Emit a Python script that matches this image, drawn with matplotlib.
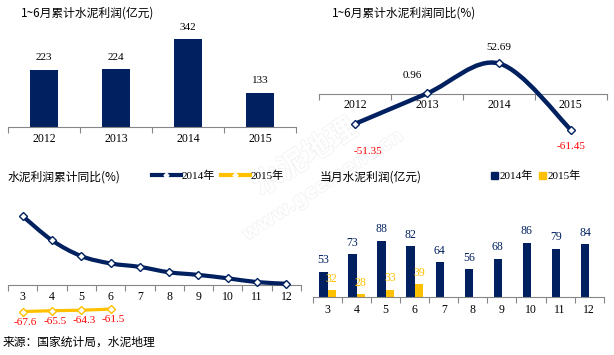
import numpy as np
import matplotlib
matplotlib.use("Agg")
import matplotlib.pyplot as plt
from matplotlib.path import Path
from matplotlib.patches import PathPatch, Patch
from matplotlib.lines import Line2D
import matplotlib.patheffects as pe

# ---------------- data ----------------
years = ["2012", "2013", "2014", "2015"]
profit_h1 = [223, 224, 342, 133]            # 1~6月累计水泥利润(亿元)
yoy_h1 = [-51.35, 0.96, 52.69, -61.45]      # 1~6月累计水泥利润同比(%)

months = ["3", "4", "5", "6", "7", "8", "9", "10", "11", "12"]
cum_yoy_2014 = [171, 110.5, 71, 52.69, 44, 30.5, 24, 15.5, 6, 2]   # 水泥利润累计同比 2014
cum_yoy_2015 = [-67.6, -65.5, -64.3, -61.5]                      # 2015 (3~6月)

monthly_2014 = [53, 73, 88, 82, 64, 56, 68, 86, 79, 84]           # 当月水泥利润 2014
monthly_2015 = [32, 28, 33, 39]                                   # 当月水泥利润 2015

# ---------------- style ----------------
NAVY = "#002060"
YEL = "#FFC000"
RED = "#FF0000"
GRAY = "#868686"
SERIF = ["Liberation Serif", "Noto Sans CJK SC"]
CJK = ["Noto Sans CJK SC", "DejaVu Sans"]
W, H = 614, 355
TICK_FS = 8.5
LAB_FS = 8
TITLE_FS = 8.5

fig = plt.figure(figsize=(W / 100, H / 100), dpi=100)
fig.patch.set_facecolor("white")


def rect(x0, y0, x1, y1):
    return [x0 / W, 1 - y1 / H, (x1 - x0) / W, (y1 - y0) / H]


def px2pt(v):
    return v * 72 / 100


def cat_axis(ax, labels, pad_px, zero_spine=False):
    if zero_spine:
        ax.spines["bottom"].set_position(("data", 0))
    n = len(labels)
    ax.set_xlim(-0.5, n - 0.5)
    ax.set_xticks(range(n))
    ax.set_xticklabels(labels, family=SERIF, fontsize=TICK_FS)
    ax.set_xticks(np.arange(-0.5, n, 1.0), minor=True)
    ax.tick_params(axis="x", which="major", length=0, pad=px2pt(pad_px))
    ax.tick_params(axis="x", which="minor", length=4.5, width=0.8, color=GRAY, direction="out")
    ax.yaxis.set_visible(False)
    for s in ["top", "left", "right"]:
        ax.spines[s].set_visible(False)
    ax.spines["bottom"].set_color(GRAY)
    ax.spines["bottom"].set_linewidth(0.8)
    ax.set_facecolor("none")


def smooth_path(x, y):
    pts = np.column_stack([np.asarray(x, float), np.asarray(y, float)])
    n = len(pts)
    verts = [pts[0]]
    codes = [Path.MOVETO]
    for i in range(n - 1):
        p0 = pts[i - 1] if i > 0 else pts[i]
        p1 = pts[i]
        p2 = pts[i + 1]
        p3 = pts[i + 2] if i + 2 < n else pts[i + 1]
        c1 = p1 + (p2 - p0) / 6.0
        c2 = p2 - (p3 - p1) / 6.0
        verts += [c1, c2, p2]
        codes += [Path.CURVE4] * 3
    return Path(verts, codes)


# watermark (behind, very faint)
wm_kw = dict(color="white", rotation=33, ha="center", va="center", zorder=-5,
             path_effects=[pe.withStroke(linewidth=1.0, foreground="#f0f0f0")])
fig.text(305 / W, 1 - 157 / H, "水泥地理", fontsize=21, fontweight="bold", family=CJK, **wm_kw)
fig.text(323 / W, 1 - 185 / H, "www.gcement.cn", fontsize=14, fontweight="bold",
         family=["DejaVu Sans"], **wm_kw)

# ---------------- panel 1 ----------------
ax1 = fig.add_axes(rect(8, 20, 296, 127))
cat_axis(ax1, years, 6.5)
x1 = np.arange(len(years))
ax1.bar(x1, profit_h1, width=0.4, color=NAVY)
ax1.set_ylim(0, 342 * 107 / 88)
for xi, v in zip(x1, profit_h1):
    ax1.annotate(str(v), (xi, v), xytext=(0, px2pt(12)), textcoords="offset points",
                 ha="center", va="center", fontsize=LAB_FS, family=SERIF, color="black")
fig.text(20.5 / W, 1 - 13 / H, "1~6月累计水泥利润(亿元)", fontsize=TITLE_FS, family=CJK,
         ha="left", va="center")

# ---------------- panel 2 ----------------
ax2 = fig.add_axes(rect(319.3, 30, 606.7, 150))
cat_axis(ax2, years, 5.5, zero_spine=True)
ax2.set_ylim(-(150 - 94) / 0.58, (94 - 30) / 0.58)
x2 = np.arange(len(years))
ax2.add_patch(PathPatch(smooth_path(x2, yoy_h1), fill=False, edgecolor=NAVY, lw=3.2,
                        capstyle="round", joinstyle="round", zorder=3))
ax2.plot(x2, yoy_h1, ls="none", marker="D", ms=4, mfc="white", mec=NAVY, mew=1, zorder=4)
off2 = [(13, -28), (-15, 18), (0, 15.7), (0, -16.4)]
for xi, v, (dx, dy) in zip(x2, yoy_h1, off2):
    ax2.annotate(f"{v:.2f}", (xi, v), xytext=(px2pt(dx), px2pt(dy)), textcoords="offset points",
                 ha="center", va="center", fontsize=LAB_FS, family=SERIF,
                 color=RED if v < 0 else "black")
fig.text(332 / W, 1 - 13 / H, "1~6月累计水泥利润同比(%)", fontsize=TITLE_FS, family=CJK,
         ha="left", va="center")

# ---------------- panel 3 ----------------
ax3 = fig.add_axes(rect(8, 195, 301, 325))
cat_axis(ax3, months, 6, zero_spine=True)
ax3.set_ylim(-(325 - 284.5) / 0.4, (284.5 - 195) / 0.4)
x3 = np.arange(len(months))
ax3.add_patch(PathPatch(smooth_path(x3, cum_yoy_2014), fill=False, edgecolor=NAVY, lw=3,
                        capstyle="round", joinstyle="round", zorder=3))
ax3.plot(x3, cum_yoy_2014, ls="none", marker="D", ms=4, mfc="white", mec=NAVY, mew=1, zorder=4)
x3b = np.arange(len(cum_yoy_2015))
ax3.plot(x3b, cum_yoy_2015, color=YEL, lw=2.3, marker="D", ms=4, mfc="white", mec=YEL,
         mew=1, solid_capstyle="round", zorder=4)
for xi, v in zip(x3b, cum_yoy_2015):
    ax3.annotate(f"{v:.1f}", (xi, v), xytext=(px2pt(3), px2pt(-10.7)), textcoords="offset points",
                 ha="center", va="center", fontsize=LAB_FS, family=SERIF, color=RED)
fig.text(8 / W, 1 - 177 / H, "水泥利润累计同比(%)", fontsize=TITLE_FS, family=CJK,
         ha="left", va="center")
h3 = [Line2D([], [], color=NAVY, lw=3, marker="D", ms=2.5, mfc="white", mec="white"),
      Line2D([], [], color=YEL, lw=3, marker="D", ms=2.5, mfc="white", mec="white")]
ax3.legend(h3, ["2014年", "2015年"], loc="center left",
           bbox_to_anchor=(152 / W, 1 - 176 / H), bbox_transform=fig.transFigure,
           ncol=2, frameon=False, handlelength=2.6, handletextpad=0.1,
           columnspacing=0.5, borderpad=0, borderaxespad=0,
           prop=dict(family=SERIF, size=8))

# ---------------- panel 4 ----------------
ax4 = fig.add_axes(rect(313, 190, 603.7, 296.7))
cat_axis(ax4, months, 7)
ymin4 = 25
ax4.set_ylim(ymin4, ymin4 + 106.7 / 0.886)
x4 = np.arange(len(months))
bw = 0.285
ax4.bar(x4 - bw / 2, monthly_2014, width=bw, color=NAVY, zorder=2)
x4b = np.arange(len(monthly_2015))
ax4.bar(x4b + bw / 2, monthly_2015, width=bw, color=YEL, zorder=2)
for xi, v in zip(x4, monthly_2014):
    ax4.annotate(str(v), (xi - bw / 2, v), xytext=(0, px2pt(11.5)), textcoords="offset points",
                 ha="center", va="center", fontsize=LAB_FS + 0.5, family=SERIF, color=NAVY)
for xi, v in zip(x4b, monthly_2015):
    ax4.annotate(str(v), (xi + bw / 2, v), xytext=(0, px2pt(11.5)), textcoords="offset points",
                 ha="center", va="center", fontsize=LAB_FS + 0.5, family=SERIF, color=YEL)
fig.text(320 / W, 1 - 177 / H, "当月水泥利润(亿元)", fontsize=TITLE_FS, family=CJK,
         ha="left", va="center")
h4 = [Patch(color=NAVY), Patch(color=YEL)]
ax4.legend(h4, ["2014年", "2015年"], loc="center left",
           bbox_to_anchor=(491 / W, 1 - 176 / H), bbox_transform=fig.transFigure,
           ncol=2, frameon=False, handlelength=0.6, handleheight=0.6, handletextpad=0.15,
           columnspacing=0.6, borderpad=0, borderaxespad=0,
           prop=dict(family=SERIF, size=8))

# source
fig.text(3 / W, 1 - 342 / H, "来源：国家统计局，水泥地理", fontsize=TITLE_FS, family=CJK,
         ha="left", va="center")

fig.savefig("out.png", dpi=100, facecolor="white")
